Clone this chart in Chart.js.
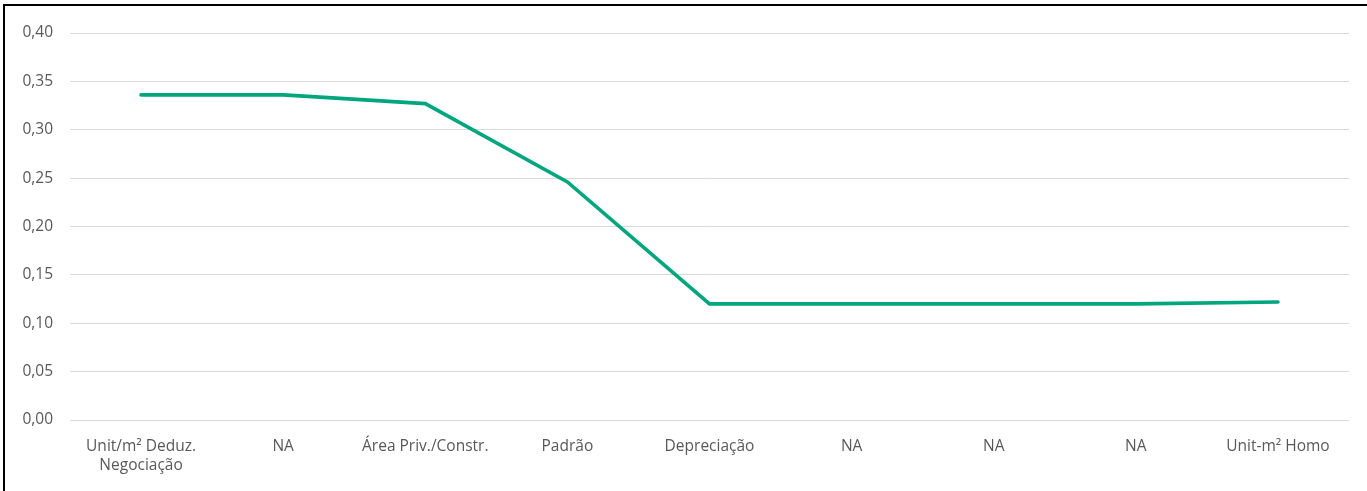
<!DOCTYPE html>
<html>
<head>
<meta charset="utf-8">
<script src="https://cdn.jsdelivr.net/npm/chart.js@4.4.1/dist/chart.umd.min.js"></script>
<style>
  html, body { margin: 0; padding: 0; background: #ffffff; }
  body { width: 1367px; height: 491px; position: relative; overflow: hidden; }
  #frame { position: absolute; left: 3px; top: 4px; width: 1370px; height: 495px;
           border-left: 2px solid #000; border-top: 2px solid #000; }
  #wrap { position: absolute; left: 0; top: 0; width: 1367px; height: 491px; }
</style>
</head>
<body>
<div id="frame"></div>
<div id="wrap"><canvas id="chart" width="1367" height="491"></canvas></div>
<script>
// Categories along the x axis (multi-line labels as arrays)
const categories = [
  ['Unit/m² Deduz.', 'Negociação'],
  'NA',
  'Área Priv./Constr.',
  'Padrão',
  'Depreciação',
  'NA',
  'NA',
  'NA',
  'Unit-m² Homo'
];

// Series values
const seriesValues = [0.336, 0.336, 0.327, 0.246, 0.120, 0.120, 0.120, 0.120, 0.122];

// Y axis range and step
const yMin = 0;
const yMax = 0.40;
const yStep = 0.05;

const textColor = '#595959';
const gridColor = '#d9d9d9';
const lineColor = '#00a67e';
const fontFamily = '"Open Sans", Lato, sans-serif';

new Chart(document.getElementById('chart'), {
  type: 'line',
  data: {
    labels: categories,
    datasets: [{
      data: seriesValues,
      borderColor: lineColor,
      backgroundColor: lineColor,
      borderWidth: 3.6,
      pointRadius: 0,
      pointHoverRadius: 0,
      tension: 0,
      borderCapStyle: 'round',
      borderJoinStyle: 'miter',
      fill: false
    }]
  },
  options: {
    responsive: false,
    animation: false,
    devicePixelRatio: 1,
    layout: { padding: { left: 0, right: 18, top: 33, bottom: 0 } },
    plugins: { legend: { display: false }, tooltip: { enabled: false } },
    scales: {
      x: {
        type: 'category',
        offset: true,
        grid: { display: false, drawTicks: false },
        border: { display: false },
        ticks: {
          color: textColor,
          font: { family: fontFamily, size: 15.5, lineHeight: 1.25 },
          padding: 17,
          maxRotation: 0,
          minRotation: 0,
          autoSkip: false
        },
        afterFit: (scale) => { scale.height = 71; }
      },
      y: {
        min: yMin,
        max: yMax,
        grid: { color: gridColor, lineWidth: 1, drawTicks: false },
        border: { display: false },
        ticks: {
          stepSize: yStep,
          color: textColor,
          font: { family: fontFamily, size: 15.5 },
          padding: 17,
          callback: (v) => Number(v).toFixed(2).replace('.', ',')
        },
        afterFit: (scale) => { scale.width = 70; }
      }
    }
  }
});
</script>
</body>
</html>
